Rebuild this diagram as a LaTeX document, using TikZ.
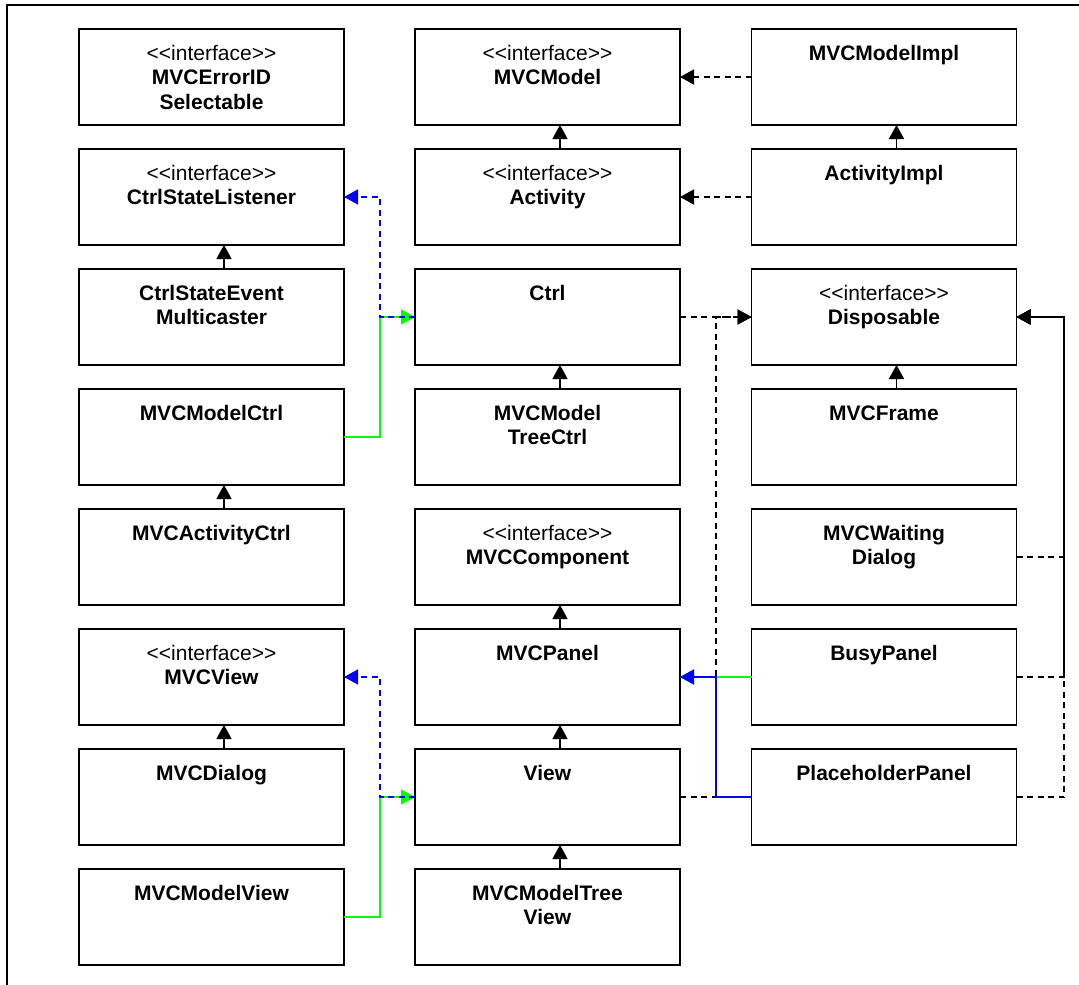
\documentclass[tikz,border=0pt]{standalone}
\usepackage{fontspec}
\setmainfont{Liberation Sans}[Ligatures=TeXOff]
\usetikzlibrary{arrows.meta}
\newcommand\umltext[1]{\parbox[c][96pt][t]{262pt}{\centering\fontsize{21}{24.5}\selectfont\rule{0pt}{31pt}#1}}
\newcommand\ifc{\textless\kern0pt\textless\kern0pt interface\textgreater\kern0pt\textgreater}
\begin{document}
\begin{tikzpicture}[x=1pt,y=-1pt,
  umlbox/.style={draw=black, line width=1.8pt, minimum width=265pt, minimum height=96pt, inner sep=0pt, outer sep=0pt},
  tipk/.style={-{Triangle[width=15pt,length=14pt]}},
  inh/.style={tipk, line width=1.6pt, black},
  real/.style={tipk, line width=1.4pt, black, dash pattern=on 6pt off 4.5pt},
  dline/.style={line width=1.4pt, black, dash pattern=on 6pt off 4.5pt},
  sline/.style={tipk, line width=1.4pt, black},
  gline/.style={tipk, line width=1.4pt, draw={rgb,255:red,0;green,255;blue,0}},
  bdash/.style={tipk, line width=1.4pt, draw={rgb,255:red,0;green,0;blue,255}, dash pattern=on 6pt off 4.5pt},
  bline/.style={tipk, line width=1.4pt, draw={rgb,255:red,0;green,0;blue,255}}
]
\useasboundingbox (0,0) rectangle (1079,985);
\begin{scope}
\clip (0,0) rectangle (1079,985);
\draw[line width=1.8pt] (7,1100) -- (7,5) -- (1200,5);
\end{scope}

% column 1
\node[umlbox] (errsel) at (211.5,77) {\umltext{\ifc\\\textbf{MVCErrorID}\\\textbf{Selectable}}};
\node[umlbox] (csl) at (211.5,197) {\umltext{\ifc\\\textbf{CtrlStateListener}}};
\node[umlbox] (csem) at (211.5,317) {\umltext{\textbf{CtrlStateEvent}\\\textbf{Multicaster}}};
\node[umlbox] (mctrl) at (211.5,437) {\umltext{\textbf{MVCModelCtrl}}};
\node[umlbox] (actctrl) at (211.5,557) {\umltext{\textbf{MVCActivityCtrl}}};
\node[umlbox] (mview) at (211.5,677) {\umltext{\ifc\\\textbf{MVCView}}};
\node[umlbox] (mdialog) at (211.5,797) {\umltext{\textbf{MVCDialog}}};
\node[umlbox] (mmview) at (211.5,917) {\umltext{\textbf{MVCModelView}}};

% column 2
\node[umlbox] (mmodel) at (547.5,77) {\umltext{\ifc\\\textbf{MVCModel}}};
\node[umlbox] (activity) at (547.5,197) {\umltext{\ifc\\\textbf{Activity}}};
\node[umlbox] (ctrl) at (547.5,317) {\umltext{\textbf{Ctrl}}};
\node[umlbox] (mtreectrl) at (547.5,437) {\umltext{\textbf{MVCModel}\\\textbf{TreeCtrl}}};
\node[umlbox] (mcomp) at (547.5,557) {\umltext{\ifc\\\textbf{MVCComponent}}};
\node[umlbox] (mpanel) at (547.5,677) {\umltext{\textbf{MVCPanel}}};
\node[umlbox] (view) at (547.5,797) {\umltext{\textbf{View}}};
\node[umlbox] (mtreeview) at (547.5,917) {\umltext{\textbf{MVCModelTree}\\\textbf{View}}};

% column 3
\node[umlbox] (mimpl) at (884,77) {\umltext{\textbf{MVCModelImpl}}};
\node[umlbox] (actimpl) at (884,197) {\umltext{\textbf{ActivityImpl}}};
\node[umlbox] (disp) at (884,317) {\umltext{\ifc\\\textbf{Disposable}}};
\node[umlbox] (mframe) at (884,437) {\umltext{\textbf{MVCFrame}}};
\node[umlbox] (mwait) at (884,557) {\umltext{\textbf{MVCWaiting}\\\textbf{Dialog}}};
\node[umlbox] (busy) at (884,677) {\umltext{\textbf{BusyPanel}}};
\node[umlbox] (place) at (884,797) {\umltext{\textbf{PlaceholderPanel}}};

\coordinate (leftx) at (380,0);
\coordinate (midx) at (716,0);
\coordinate (rightx) at (1064,0);

% inheritance
\foreach \c/\p in {activity/mmodel, actimpl/mimpl, csem/csl, mtreectrl/ctrl, mframe/disp,
  actctrl/mctrl, mpanel/mcomp, mdialog/mview, view/mpanel, mtreeview/view}
  \draw[inh] ([xshift=12.5pt]\c.north) -- ([xshift=12.5pt]\p.south);

% realizations (black dashed)
\draw[real] (mimpl.west) -- (mmodel.east);
\draw[real] (actimpl.west) -- (activity.east);
\draw[real] (ctrl.east) -- (disp.west);
\draw[real] (view.east) -- (view.east -| midx) -- (disp.west -| midx) -- (disp.west);
\draw[real] (busy.east) -- (busy.east -| rightx) -- (disp.east -| rightx) -- (disp.east);
\draw[real] (place.east) -- (place.east -| rightx) -- (disp.east -| rightx) -- (disp.east);
\draw[dline] (mwait.east) -- (mwait.east -| rightx);
\draw[sline] (mwait.east -| rightx) -- (disp.east -| rightx) -- (disp.east);

% green and blue connectors
\draw[gline] (mctrl.east) -- (mctrl.east -| leftx) -- (ctrl.west -| leftx) -- (ctrl.west);
\draw[bdash] (ctrl.west) -- (ctrl.west -| leftx) -- (csl.east -| leftx) -- (csl.east);
\draw[gline] (mmview.east) -- (mmview.east -| leftx) -- (view.west -| leftx) -- (view.west);
\draw[bdash] (view.west) -- (view.west -| leftx) -- (mview.east -| leftx) -- (mview.east);
\draw[gline] (busy.west) -- (mpanel.east);
\draw[bline] (place.west) -- (place.west -| midx) -- (mpanel.east -| midx) -- (mpanel.east);
\end{tikzpicture}
\end{document}
